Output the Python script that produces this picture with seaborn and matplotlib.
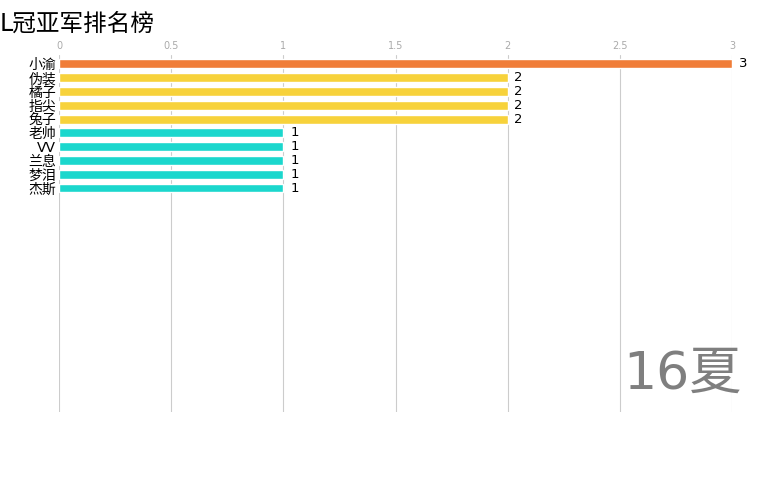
import matplotlib
matplotlib.use("Agg")
import matplotlib.pyplot as plt
import seaborn as sns
import pandas as pd

names = ["小渝", "伪装", "橘子", "指尖", "兔子", "老帅", "VV", "兰息", "梦泪", "杰斯"]
values = [3, 2, 2, 2, 2, 1, 1, 1, 1, 1]
colors = ["#F07D38", "#F7D23B", "#F7D23B", "#F7D23B", "#F7D23B",
          "#1BD7CD", "#1BD7CD", "#1BD7CD", "#1BD7CD", "#1BD7CD"]
ticks = [0, 0.5, 1, 1.5, 2, 2.5, 3]
title = "L冠亚军排名榜"
season = "16夏"

sns.set_theme(style="white")
plt.rcParams['font.family'] = ['DejaVu Sans', 'Noto Sans CJK SC']

df = pd.DataFrame({"name": names, "value": values})

fig = plt.figure(figsize=(7.68, 4.8), dpi=100)
ax = fig.add_axes([59/768, 1-412/480, (732-59)/768, (412-55)/480])

sns.barplot(data=df, y="name", x="value", hue="name", palette=colors,
            order=names, hue_order=names, width=0.65, legend=False, ax=ax,
            saturation=1, zorder=3)

ax.set_xlim(0, 3)
ax.set_ylim(25.25, -0.65)
ax.set_xticks(ticks)
ax.set_xticklabels([f"{t:g}" for t in ticks])
ax.xaxis.tick_top()
ax.tick_params(axis='x', labelsize=7, colors="#aaaaaa", length=0, pad=3)
ax.tick_params(axis='y', labelsize=10, colors="black", length=0, pad=2)
ax.grid(axis='x', color="#cccccc", linewidth=0.8, zorder=0)
ax.grid(axis='y', visible=False)
for s in ax.spines.values():
    s.set_visible(False)
ax.set_xlabel("")
ax.set_ylabel("")

for i, v in enumerate(values):
    ax.text(v + 0.03, i, f"{v}", va="center", ha="left", fontsize=9.5, color="black")

fig.text(0.0, 1 - 24/480, title, fontsize=17, ha="left", va="center", color="black")
fig.text(742/768, 1 - 375/480, season, fontsize=37.5, ha="right", va="center", color="#7f7f7f")

fig.savefig("out.png", dpi=100)
